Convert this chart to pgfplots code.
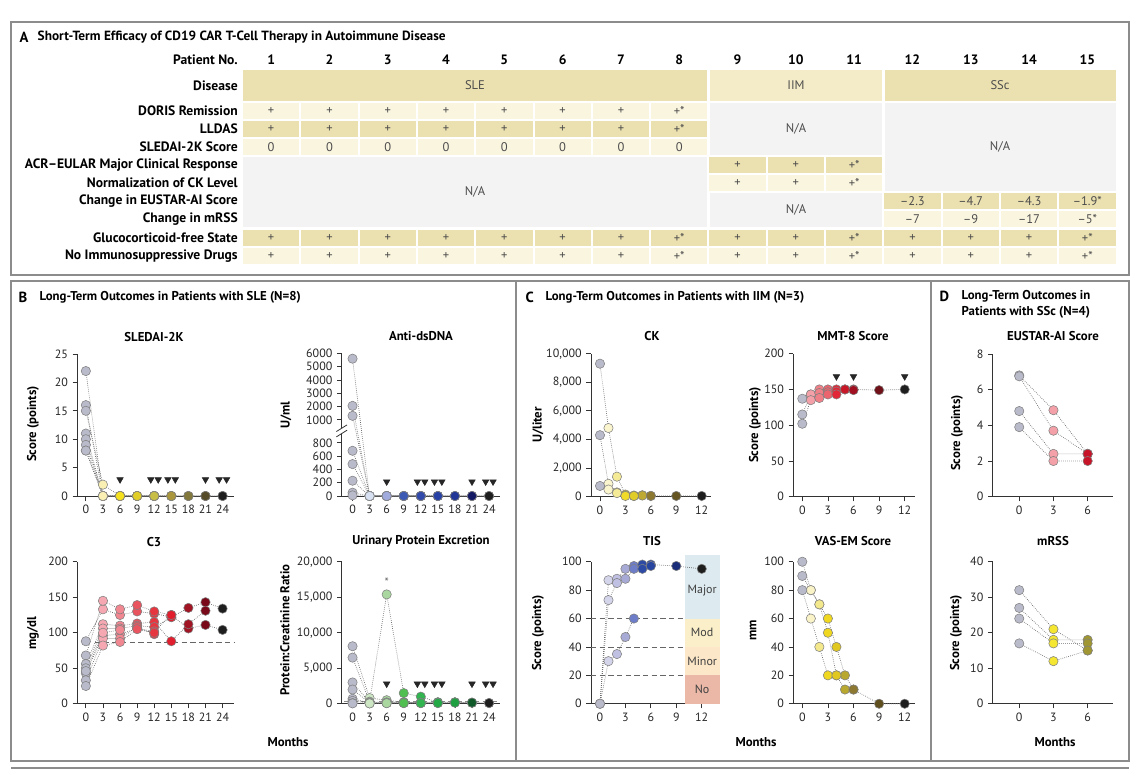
\documentclass[border=0pt]{standalone}
\usepackage{pgfplots}
\pgfplotsset{compat=1.18}
\usepackage{fontspec}
\setmainfont{PT Sans}

\definecolor{tanD}{RGB}{235,224,175}
\definecolor{tanM}{RGB}{244,236,200}
\definecolor{tanL}{RGB}{250,245,223}
\definecolor{naG}{RGB}{243,243,243}
\definecolor{frm}{RGB}{140,140,140}
\definecolor{tisMaj}{RGB}{221,234,240}
\definecolor{tisMod}{RGB}{250,239,200}
\definecolor{tisMin}{RGB}{252,231,200}
\definecolor{tisNo}{RGB}{235,184,168}

\newcommand\tk{\fontsize{9}{10.5}\selectfont}
\newcommand\hd{\bfseries\fontsize{9.6}{11}\selectfont}
\newcommand\tb{\bfseries\fontsize{10.2}{12}\selectfont}
\newcommand\ct{\fontsize{9.4}{10}\selectfont}
\newcommand\pl{\bfseries\fontsize{11}{13}\selectfont}

% one table cell: column, top (px), colour, text
\newcommand\cell[4]{%
  \fill[#3] ({242+(#1-1)*58.3+1},#2) rectangle ({242+#1*58.3-1},{#2+16});
  \node[font=\ct, text=black!70] at ({242+(#1-0.5)*58.3},{#2+8.5}) {#4};}

\tikzset{refl/.style={black!60, line width=0.6pt, dash pattern=on 4pt off 2.5pt}}

\pgfplotsset{
  panel/.style={
    scale only axis, anchor=south west, clip=false,
    set layers, mark layer=axis foreground,
    axis x line=bottom, axis y line=left,
    axis line style={-, black!80, line width=0.6pt},
    tick align=outside, major tick length=3.5pt,
    tick style={black!80, line width=0.6pt},
    tick label style={font=\tk, text=black!85},
    /pgf/number format/assume math mode=true,
    scaled y ticks=false, ymin=0, point meta min=0,
  },
  pat/.style={densely dotted, black!60, line width=0.5pt, scatter, point meta=x,
    mark=*, mark size=3.5pt, mark options={solid, line width=0.4pt},
    scatter/use mapped color={draw=black!50, fill=mapped color}},
  tri/.style={only marks, mark=triangle*, mark size=2.8pt, color=black!85,
    mark options={rotate=180}},
}

\begin{document}
\begin{tikzpicture}

\begin{scope}[x=0.75pt,y=-0.75pt]
\path (0,0) rectangle (1146,779);
% frames
\draw[frm, line width=1.1pt] (11,22) rectangle (1129,275);
\draw[frm, line width=1.1pt] (11,281) rectangle (1129,761);
\draw[frm, line width=1.1pt] (516,281) -- (516,761);
\draw[frm, line width=1.1pt] (931,281) -- (931,761);
\draw[frm, line width=1.1pt] (11,768) -- (1129,768);

% panel A
\node[anchor=west, font=\pl] at (15,37) {A};
\node[anchor=west, font=\bfseries\fontsize{10}{12}\selectfont] at (33,37) {Short-Term Efficacy of CD19 CAR T-Cell Therapy in Autoimmune Disease};
\node[anchor=east, inner sep=0pt, font=\tb] at (238,60) {Patient No.};
\foreach \i in {1,...,15} {\node[font=\tb] at ({242+(\i-0.5)*58.3},60) {\i};}
\foreach \y/\t in {85.5/Disease, 111/DORIS Remission, 129/LLDAS, 147/SLEDAI-2K Score,
  165/ACR--EULAR Major Clinical Response, 183/Normalization of CK Level,
  201/Change in EUSTAR-AI Score, 219/Change in mRSS, 238/Glucocorticoid-free State,
  256/No Immunosuppressive Drugs} {\node[anchor=east, inner sep=0pt, font=\tb] at (238,\y) {\t};}

\fill[tanD] (243,70) rectangle (707.4,101);
\fill[tanM] (709.8,70) rectangle (882,101);
\fill[tanD] (884.8,70) rectangle (1115.5,101);
\node[font=\ct, text=black!70] at (475,85.5) {SLE};
\node[font=\ct, text=black!70] at (796,85.5) {IIM};
\node[font=\ct, text=black!70] at (1000,85.5) {SSc};

\foreach \i in {1,...,7} {
  \cell{\i}{103}{tanL}{+} \cell{\i}{121}{tanD}{+} \cell{\i}{139}{tanL}{0}
  \cell{\i}{230}{tanD}{+} \cell{\i}{248}{tanL}{+}}
\cell{8}{103}{tanL}{+*} \cell{8}{121}{tanD}{+*} \cell{8}{139}{tanL}{0}
\cell{8}{230}{tanD}{+*} \cell{8}{248}{tanL}{+*}
\foreach \i in {9,10,12,13,14} {\cell{\i}{230}{tanD}{+} \cell{\i}{248}{tanL}{+}}
\cell{11}{230}{tanD}{+*} \cell{11}{248}{tanL}{+*}
\cell{15}{230}{tanD}{+*} \cell{15}{248}{tanL}{+*}
\cell{9}{157}{tanD}{+} \cell{10}{157}{tanD}{+} \cell{11}{157}{tanD}{+*}
\cell{9}{175}{tanL}{+} \cell{10}{175}{tanL}{+} \cell{11}{175}{tanL}{+*}
\cell{12}{193}{tanD}{--2.3} \cell{13}{193}{tanD}{--4.7} \cell{14}{193}{tanD}{--4.3} \cell{15}{193}{tanD}{--1.9*}
\cell{12}{211}{tanL}{--7} \cell{13}{211}{tanL}{--9} \cell{14}{211}{tanL}{--17} \cell{15}{211}{tanL}{--5*}

\fill[naG] (243,157) rectangle (707.4,227);
\fill[naG] (709.8,103) rectangle (882,155);
\fill[naG] (709.8,193) rectangle (882,227);
\fill[naG] (884.8,103) rectangle (1115.5,191);
\node[font=\ct, text=black!70] at (475,192) {N/A};
\node[font=\ct, text=black!70] at (796,129) {N/A};
\node[font=\ct, text=black!70] at (796,210) {N/A};
\node[font=\ct, text=black!70] at (1000,147) {N/A};

% panel titles
\node[anchor=west, font=\pl] at (14,297) {B};
\node[anchor=west, font=\hd] at (35,297) {Long-Term Outcomes in Patients with SLE (N=8)};
\node[anchor=west, font=\pl] at (521,297) {C};
\node[anchor=west, font=\hd] at (541,297) {Long-Term Outcomes in Patients with IIM (N=3)};
\node[anchor=west, font=\pl] at (935,296) {D};
\node[anchor=west, font=\hd] at (957,296) {Long-Term Outcomes in};
\node[anchor=west, font=\hd] at (957,312) {Patients with SSc (N=4)};

% subplot titles
\foreach \x/\y/\t in {154/337/SLEDAI-2K, 421/336/Anti-dsDNA, 154/542/C3,
  421/541/Urinary Protein Excretion, 652/336/CK, 853/336/MMT-8 Score,
  652/541/TIS, 853/541/VAS-EM Score, 1053/336/EUSTAR-AI Score, 1053/541/mRSS}
  {\node[font=\hd] at (\x,\y) {\t};}
% y labels
\foreach \x/\y/\t in {33/424/{Score (points)}, 286/415/{U/ml}, 33/633/{mg/dl},
  285/630/{Protein:Creatinine Ratio}, 538/425/{U/liter}, 755/425/{Score (points)},
  538/633/{Score (points)}, 753/630/{mm}, 957/433/{Score (points)}, 956/633/{Score (points)}}
  {\node[font=\hd, rotate=90] at (\x,\y) {\t};}
\foreach \x in {288,756,1055} {\node[font=\hd] at (\x,742) {Months};}
\end{scope}

% ---------- SLEDAI-2K
\begin{axis}[panel, at={(57.98pt,-372pt)}, width=117.5pt, height=106.5pt,
  xmin=-1.5, xmax=26, ymax=25, xtick={0,3,...,24}, ytick={0,5,...,25},
  point meta max=24,
  colormap={sledai}{rgb255(0cm)=(185,186,202) rgb255(3cm)=(250,240,180) rgb255(6cm)=(245,225,30)
    rgb255(9cm)=(225,205,40) rgb255(12cm)=(200,190,70) rgb255(15cm)=(170,150,60)
    rgb255(18cm)=(130,120,60) rgb255(21cm)=(85,75,40) rgb255(24cm)=(30,30,30)}]
\addplot[pat] coordinates {(0,22) (3,0) (6,0) (9,0) (12,0) (15,0) (18,0) (21,0) (24,0)};
\addplot[pat] coordinates {(0,16) (3,0) (6,0) (9,0) (12,0) (15,0) (18,0) (21,0) (24,0)};
\addplot[pat] coordinates {(0,15) (3,2) (6,0) (9,0) (12,0) (15,0) (18,0) (21,0)};
\addplot[pat] coordinates {(0,11) (3,0) (6,0) (9,0) (12,0) (15,0)};
\addplot[pat] coordinates {(0,10) (3,0) (6,0) (9,0) (12,0) (15,0)};
\addplot[pat] coordinates {(0,9) (3,0) (6,0) (9,0) (12,0)};
\addplot[pat] coordinates {(0,8) (3,0) (6,0) (9,0) (12,0)};
\addplot[pat] coordinates {(0,8) (3,0) (6,0)};
\addplot[tri] coordinates {(6,2.9) (11.4,2.9) (12.7,2.9) (14.4,2.9) (15.7,2.9) (21,2.9) (23.4,2.9) (24.7,2.9)};
\end{axis}

% ---------- Anti-dsDNA (broken axis)
\begin{axis}[panel, at={(256.3pt,-372pt)}, width=118.6pt, height=107.1pt,
  xmin=-1.9, xmax=25.9, ymax=10.74, xtick={0,3,...,24},
  ytick={0,1,2,3,4,5.73,6.73,7.73,8.73,9.73,10.73},
  yticklabels={0,200,400,600,800,1000,2000,3000,4000,5000,6000},
  y filter/.expression={y<900 ? y/200 : 5.73+(y-1000)/1000},
  point meta max=24,
  colormap={dsdna}{rgb255(0cm)=(185,186,202) rgb255(3cm)=(215,225,242) rgb255(6cm)=(160,170,220)
    rgb255(9cm)=(60,90,180) rgb255(12cm)=(50,75,170) rgb255(15cm)=(40,65,165)
    rgb255(18cm)=(35,55,150) rgb255(21cm)=(20,25,100) rgb255(24cm)=(30,30,30)}]
\fill[white] ([xshift=-4pt]axis cs:-1.9,4.7) rectangle ([xshift=4pt]axis cs:-1.9,5.1);
\draw[black!80, line width=0.6pt] ([xshift=-4pt,yshift=-2.5pt]axis cs:-1.9,4.7) -- ([xshift=4pt,yshift=2.5pt]axis cs:-1.9,4.7);
\draw[black!80, line width=0.6pt] ([xshift=-4pt,yshift=-2.5pt]axis cs:-1.9,5.1) -- ([xshift=4pt,yshift=2.5pt]axis cs:-1.9,5.1);
\addplot[pat] coordinates {(0,5600) (3,0) (6,0) (9,0) (12,0) (15,0) (18,0) (21,0) (24,0)};
\addplot[pat] coordinates {(0,2050) (3,0) (6,0) (9,0) (12,0) (15,0) (18,0) (21,0) (24,0)};
\addplot[pat] coordinates {(0,1300) (3,0) (6,0) (9,0) (12,0) (15,0) (18,0) (21,0)};
\addplot[pat] coordinates {(0,680) (3,0) (6,0) (9,0) (12,0) (15,0)};
\addplot[pat] coordinates {(0,480) (3,0) (6,0) (9,0) (12,0) (15,0)};
\addplot[pat] coordinates {(0,230) (3,0) (6,0) (9,0) (12,0)};
\addplot[pat] coordinates {(0,50) (3,0) (6,0) (9,0) (12,0)};
\addplot[pat] coordinates {(0,10) (3,0) (6,0)};
\addplot[tri] coordinates {(6,215) (11.4,215) (12.7,215) (14.4,215) (15.7,215) (21,215) (23.4,215) (24.7,215)};
\end{axis}

% ---------- C3
\begin{axis}[panel, at={(57.98pt,-527.8pt)}, width=117.5pt, height=106.5pt,
  xmin=-1.5, xmax=26, ymax=200, xtick={0,3,...,24}, ytick={0,50,...,200},
  point meta max=24,
  colormap={cthree}{rgb255(0cm)=(185,186,202) rgb255(3cm)=(245,168,178) rgb255(6cm)=(240,135,145)
    rgb255(9cm)=(232,85,95) rgb255(12cm)=(230,55,65) rgb255(15cm)=(225,30,45)
    rgb255(18cm)=(160,20,35) rgb255(21cm)=(120,10,25) rgb255(24cm)=(30,30,30)}]
\draw[refl] (axis cs:1.6,86.5) -- (axis cs:26,86.5);
\addplot[pat] coordinates {(0,88) (3,133) (6,125) (9,130) (12,127) (15,122) (18,135) (21,143) (24,134)};
\addplot[pat] coordinates {(0,68) (3,145) (6,133) (9,139) (12,130) (15,125) (18,106) (21,111) (24,104)};
\addplot[pat] coordinates {(0,56) (3,112) (6,110) (9,113) (12,115) (15,88) (18,112) (21,131)};
\addplot[pat] coordinates {(0,50) (3,106) (6,106) (9,110) (12,108) (15,122)};
\addplot[pat] coordinates {(0,43) (3,96) (6,98) (9,106) (12,102) (15,125)};
\addplot[pat] coordinates {(0,33) (3,92) (6,92) (9,108) (12,98)};
\addplot[pat] coordinates {(0,25) (3,82) (6,87) (9,105) (12,100)};
\addplot[pat] coordinates {(0,46) (3,100) (6,104)};
\end{axis}

% ---------- Urinary protein excretion
\begin{axis}[panel, at={(256.3pt,-527.8pt)}, width=118.6pt, height=106.5pt,
  xmin=-1.9, xmax=25.9, ymax=20000, xtick={0,3,...,24}, ytick={0,5000,...,20000},
  point meta max=24,
  colormap={uprot}{rgb255(0cm)=(185,186,202) rgb255(3cm)=(205,230,195) rgb255(6cm)=(170,215,160)
    rgb255(9cm)=(80,190,80) rgb255(12cm)=(50,180,80) rgb255(15cm)=(35,170,70)
    rgb255(18cm)=(30,160,65) rgb255(21cm)=(15,90,40) rgb255(24cm)=(30,30,30)}]
\draw[refl, black!45] (axis cs:-1.5,400) -- (axis cs:25.9,400);
\addplot[pat] coordinates {(0,8100) (3,800) (6,500) (9,200) (12,200) (15,200) (18,200) (21,150) (24,100)};
\addplot[pat] coordinates {(0,6500) (3,300) (6,15400) (9,1500) (12,1000) (15,200) (18,200) (21,150) (24,100)};
\addplot[pat] coordinates {(0,3000) (3,200) (6,200) (9,200) (12,150) (15,150) (18,150) (21,150)};
\addplot[pat] coordinates {(0,2000) (3,150) (6,100) (9,100) (12,100) (15,100)};
\addplot[pat] coordinates {(0,700) (3,100) (6,100) (9,150) (12,100) (15,100)};
\addplot[pat] coordinates {(0,400) (3,100) (6,150) (9,100) (12,100)};
\addplot[pat] coordinates {(0,100) (3,50) (6,100) (9,100) (12,100)};
\addplot[pat] coordinates {(0,50) (3,50) (6,80)};
\addplot[tri] coordinates {(6,2800) (11.4,2800) (12.7,2800) (14.4,2800) (15.7,2800) (21,2800) (23.4,2800) (24.7,2800)};
\node[font=\tk, text=black!60] at (axis cs:6,17100) {*};
\end{axis}

% ---------- CK
\begin{axis}[panel, at={(443.25pt,-372.5pt)}, width=89.75pt, height=107.25pt,
  xmin=-1.06, xmax=13.06, ymax=10000, xtick={0,3,...,12}, ytick={0,2000,...,10000},
  point meta max=12,
  colormap={ck}{rgb255(0cm)=(185,186,202) rgb255(1cm)=(250,245,205) rgb255(2cm)=(245,235,150)
    rgb255(3cm)=(240,220,40) rgb255(4cm)=(225,205,40) rgb255(5cm)=(190,170,50)
    rgb255(6cm)=(140,120,48) rgb255(9cm)=(100,85,35) rgb255(12cm)=(30,30,30)}]
\addplot[pat] coordinates {(0,9300) (1,4800) (2,1400) (3,150) (4,50) (5,100) (6,50) (9,50) (12,50)};
\addplot[pat] coordinates {(0,4300) (1,900) (2,300) (3,100) (4,80) (5,80) (6,60)};
\addplot[pat] coordinates {(0,750) (1,500) (2,250) (3,50) (4,50)};
\end{axis}

% ---------- MMT-8
\begin{axis}[panel, at={(595pt,-372.5pt)}, width=91.2pt, height=107.25pt,
  xmin=-1.05, xmax=13.2, ymax=200, xtick={0,3,...,12}, ytick={0,50,...,200},
  point meta max=12,
  colormap={mmt}{rgb255(0cm)=(185,186,202) rgb255(1cm)=(244,160,168) rgb255(2cm)=(240,128,136)
    rgb255(3cm)=(236,100,110) rgb255(4cm)=(226,40,56) rgb255(5cm)=(200,24,40)
    rgb255(6cm)=(160,16,32) rgb255(9cm)=(112,16,24) rgb255(12cm)=(30,30,30)}]
\addplot[pat] coordinates {(0,137) (1,143) (2,150) (3,150) (4,150) (5,150) (6,150) (9,149) (12,150)};
\addplot[pat] coordinates {(0,115) (1,143) (2,145) (3,146) (4,147) (5,150) (6,149)};
\addplot[pat] coordinates {(0,102) (1,135) (2,138) (3,143) (4,143)};
\addplot[tri] coordinates {(4,168) (6,168) (12,168)};
\end{axis}

% ---------- TIS
\begin{axis}[panel, at={(443.25pt,-527.8pt)}, width=96.4pt, height=106.5pt,
  xmin=-1.06, xmax=14.1, ymax=100, xtick={0,3,...,12}, ytick={0,20,...,100},
  point meta max=12,
  colormap={tis}{rgb255(0cm)=(185,186,202) rgb255(1cm)=(212,212,234) rgb255(2cm)=(192,192,226)
    rgb255(3cm)=(168,170,214) rgb255(4cm)=(110,125,200) rgb255(5cm)=(45,75,165)
    rgb255(6cm)=(40,70,160) rgb255(9cm)=(25,45,120) rgb255(12cm)=(30,30,30)}]
\fill[tisMaj] (axis cs:10,60) rectangle (axis cs:14.1,104.7);
\fill[tisMod] (axis cs:10,40) rectangle (axis cs:14.1,60);
\fill[tisMin] (axis cs:10,20) rectangle (axis cs:14.1,40);
\fill[tisNo] (axis cs:10,0) rectangle (axis cs:14.1,20);
\node[font=\tk, text=black!75] at (axis cs:12.05,80) {Major};
\node[font=\tk, text=black!75] at (axis cs:12.05,50) {Mod};
\node[font=\tk, text=black!75] at (axis cs:12.05,30) {Minor};
\node[font=\tk, text=black!75] at (axis cs:12.05,10) {No};
\draw[refl] (axis cs:-1.06,20) -- (axis cs:10,20);
\draw[refl] (axis cs:-1.06,40) -- (axis cs:10,40);
\draw[refl] (axis cs:-1.06,60) -- (axis cs:10,60);
\addplot[pat] coordinates {(0,0) (1,87) (2,88) (3,95) (4,97) (5,98) (6,98) (9,97) (12,95)};
\addplot[pat] coordinates {(0,0) (1,73) (2,85) (3,88) (4,95) (5,95) (6,97)};
\addplot[pat] coordinates {(0,0) (1,30) (2,35) (3,47) (4,60)};
\end{axis}

% ---------- VAS-EM
\begin{axis}[panel, at={(595pt,-527.8pt)}, width=91.2pt, height=106.5pt,
  xmin=-1.05, xmax=13.2, ymax=100, xtick={0,3,...,12}, ytick={0,20,...,100},
  point meta max=12,
  colormap={vas}{rgb255(0cm)=(185,186,202) rgb255(1cm)=(250,243,200) rgb255(2cm)=(244,232,140)
    rgb255(3cm)=(240,216,32) rgb255(4cm)=(224,200,32) rgb255(5cm)=(184,168,48)
    rgb255(6cm)=(140,120,48) rgb255(9cm)=(96,80,32) rgb255(12cm)=(30,30,30)}]
\addplot[pat] coordinates {(0,100) (1,80) (2,70) (3,60) (4,40) (5,20) (6,10) (9,0) (12,0)};
\addplot[pat] coordinates {(0,90) (1,80) (2,70) (3,50) (4,20) (5,10) (6,10)};
\addplot[pat] coordinates {(0,80) (1,60) (2,40) (3,20) (4,20)};
\end{axis}

% ---------- EUSTAR-AI
\begin{axis}[panel, at={(744.5pt,-372.5pt)}, width=90.3pt, height=107pt,
  xmin=-2.33, xmax=8.23, ymax=8, xtick={0,3,6}, ytick={0,2,...,8},
  point meta max=6,
  colormap={eus}{rgb255(0cm)=(185,186,202) rgb255(3cm)=(244,160,168) rgb255(6cm)=(200,20,40)}]
\addplot[pat] coordinates {(0,6.8) (3,4.85) (6,2.4)};
\addplot[pat] coordinates {(0,6.75) (3,3.7) (6,2.4)};
\addplot[pat] coordinates {(0,4.8) (3,2.4) (6,2.4)};
\addplot[pat] coordinates {(0,3.9) (3,2.0) (6,2.0)};
\end{axis}

% ---------- mRSS
\begin{axis}[panel, at={(744.5pt,-527.8pt)}, width=90.3pt, height=106.5pt,
  xmin=-2.33, xmax=8.23, ymax=40, xtick={0,3,6}, ytick={0,10,...,40},
  point meta max=6,
  colormap={mrss}{rgb255(0cm)=(185,186,202) rgb255(3cm)=(245,230,50) rgb255(6cm)=(160,150,50)}]
\addplot[pat] coordinates {(0,32) (3,21) (6,15)};
\addplot[pat] coordinates {(0,27) (3,18) (6,18)};
\addplot[pat] coordinates {(0,24) (3,17) (6,17)};
\addplot[pat] coordinates {(0,17) (3,12) (6,15)};
\end{axis}

\end{tikzpicture}
\end{document}
